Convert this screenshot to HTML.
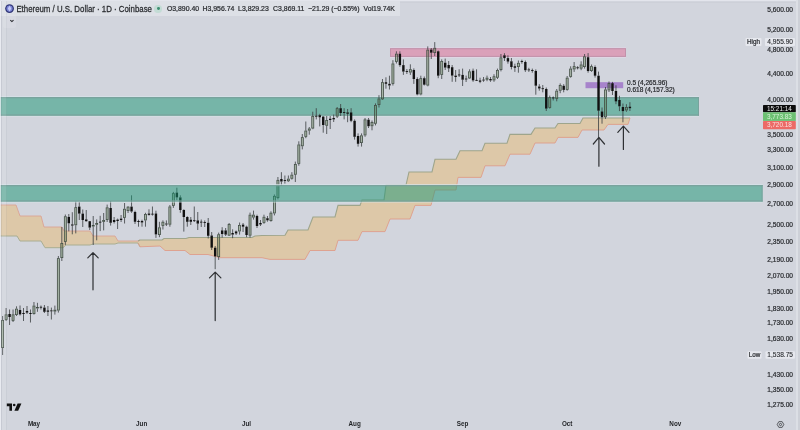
<!DOCTYPE html>
<html><head><meta charset="utf-8"><style>
html,body{margin:0;padding:0;}
body{width:800px;height:430px;overflow:hidden;background:#d2d5dd;position:relative;font-family:'Liberation Sans',Arial,sans-serif;}
.hdr{position:absolute;left:0;top:0;width:400px;height:16px;background:rgba(236,238,242,0.45);}
.t{position:absolute;white-space:nowrap;color:#2a2c30;}
.ohlc{top:5.35px;font-size:6.9px;line-height:8px;-webkit-text-stroke:0.22px #2a2c30;}
.edge{position:absolute;top:0;height:430px;}
</style></head><body>
<svg width="800" height="430" viewBox="0 0 800 430" style="position:absolute;left:0;top:0"><polygon points="0.0,205.0 16.0,205.0 20.0,216.0 41.0,216.0 44.0,227.0 62.0,227.0 64.0,231.0 90.0,231.0 93.0,236.0 115.0,236.0 118.0,241.0 138.0,241.0 140.0,240.0 162.0,240.0 164.0,238.5 186.0,238.5 189.0,237.5 252.0,237.5 255.0,236.0 262.0,235.5 285.0,235.2 288.0,230.0 308.0,230.0 313.0,217.0 335.0,217.0 338.0,205.4 360.0,205.4 362.0,200.0 384.0,200.0 386.0,185.0 406.0,185.0 409.0,172.0 432.0,172.0 435.0,159.3 456.0,159.3 460.0,150.7 482.0,150.7 485.0,143.3 507.0,143.3 510.0,134.4 531.0,134.4 535.0,128.0 555.0,128.0 558.0,123.5 580.0,123.5 583.0,118.0 630.0,118.0 630.0,118.0 628.0,124.4 608.0,124.4 604.0,130.0 582.0,130.0 578.0,137.4 558.0,137.4 555.0,143.0 535.0,143.0 530.0,154.2 510.0,154.2 505.0,165.8 485.0,165.8 481.0,177.4 458.0,177.4 456.0,190.0 435.0,190.0 431.0,205.4 415.0,205.4 410.0,219.0 390.0,219.0 385.0,231.6 362.0,231.6 358.0,240.3 338.0,240.3 335.0,250.5 310.0,250.5 305.0,259.4 270.0,259.4 262.0,257.7 220.0,257.7 208.0,254.5 190.0,254.5 185.0,250.5 165.0,250.5 160.0,246.0 140.0,246.8 138.0,243.0 118.0,243.0 115.0,244.0 93.0,244.0 90.0,245.0 66.0,245.0 63.0,247.7 45.0,247.7 41.0,241.0 20.0,241.0 17.0,236.0 0.0,236.0" fill="#ddc8a8"/><polyline points="0.0,205.0 16.0,205.0 20.0,216.0 41.0,216.0 44.0,227.0 62.0,227.0 64.0,231.0 90.0,231.0 93.0,236.0 115.0,236.0 118.0,241.0 138.0,241.0 140.0,240.0" fill="none" stroke="#dba394" stroke-width="0.9"/><polyline points="0.0,236.0 17.0,236.0 20.0,241.0 41.0,241.0 45.0,247.7 63.0,247.7 66.0,245.0 90.0,245.0 93.0,244.0 115.0,244.0 118.0,243.0 138.0,243.0 140.0,246.8" fill="none" stroke="#a9ae92" stroke-width="1.0"/><polyline points="138.0,241.0 140.0,240.0 162.0,240.0 164.0,238.5 186.0,238.5 189.0,237.5 252.0,237.5 255.0,236.0 262.0,235.5 285.0,235.2 288.0,230.0 308.0,230.0 313.0,217.0 335.0,217.0 338.0,205.4 360.0,205.4 362.0,200.0 384.0,200.0 386.0,185.0 406.0,185.0 409.0,172.0 432.0,172.0 435.0,159.3 456.0,159.3 460.0,150.7 482.0,150.7 485.0,143.3 507.0,143.3 510.0,134.4 531.0,134.4 535.0,128.0 555.0,128.0 558.0,123.5 580.0,123.5 583.0,118.0 630.0,118.0" fill="none" stroke="#9ea58c" stroke-width="1.1"/><polyline points="138.0,243.0 140.0,246.8 160.0,246.0 165.0,250.5 185.0,250.5 190.0,254.5 208.0,254.5 220.0,257.7 262.0,257.7 270.0,259.4 305.0,259.4 310.0,250.5 335.0,250.5 338.0,240.3 358.0,240.3 362.0,231.6 385.0,231.6 390.0,219.0 410.0,219.0 415.0,205.4 431.0,205.4 435.0,190.0 456.0,190.0 458.0,177.4 481.0,177.4 485.0,165.8 505.0,165.8 510.0,154.2 530.0,154.2 535.0,143.0 555.0,143.0 558.0,137.4 578.0,137.4 582.0,130.0 604.0,130.0 608.0,124.4 628.0,124.4 630.0,118.0" fill="none" stroke="#df9d8a" stroke-width="0.9"/><rect x="390" y="47.2" width="236" height="1" fill="rgba(226,214,230,0.8)"/><rect x="390" y="56.9" width="236" height="1.1" fill="rgba(226,214,230,0.8)"/><rect x="390" y="48.2" width="236" height="8.7" fill="rgba(220,140,170,0.72)"/><rect x="390.5" y="48.7" width="235" height="7.7" fill="none" stroke="rgba(185,140,165,0.75)" stroke-width="1"/><rect x="585.5" y="82.2" width="37.7" height="6" fill="rgba(150,100,195,0.72)"/><rect x="0" y="96.1" width="699" height="0.9" fill="rgba(215,228,232,0.8)"/><rect x="0" y="115.7" width="699" height="0.9" fill="rgba(215,228,232,0.8)"/><rect x="0" y="97" width="699" height="18.700000000000003" fill="rgba(26,149,115,0.5)"/><rect x="0" y="97" width="699" height="1.3" fill="rgba(122,160,155,0.85)"/><rect x="0" y="114.4" width="699" height="1.3" fill="rgba(122,160,155,0.85)"/><rect x="698" y="97" width="1" height="18.700000000000003" fill="rgba(122,160,155,0.85)"/><line x1="2.60" y1="316.0" x2="2.60" y2="320.0" stroke="#3a3d40" stroke-width="0.8"/><line x1="2.60" y1="348.0" x2="2.60" y2="355.0" stroke="#3a3d40" stroke-width="0.8"/><rect x="1.60" y="320.4" width="2.0" height="27.2" fill="rgba(87,121,64,0.35)" stroke="#414d44" stroke-width="0.8"/><line x1="6.08" y1="308.0" x2="6.08" y2="314.4" stroke="#3a3d40" stroke-width="0.8"/><line x1="6.08" y1="320.0" x2="6.08" y2="321.0" stroke="#3a3d40" stroke-width="0.8"/><rect x="5.09" y="314.8" width="2.0" height="4.8" fill="rgba(87,121,64,0.35)" stroke="#414d44" stroke-width="0.8"/><line x1="9.57" y1="309.5" x2="9.57" y2="314.0" stroke="#3a3d40" stroke-width="0.8"/><line x1="9.57" y1="317.0" x2="9.57" y2="325.0" stroke="#3a3d40" stroke-width="0.8"/><rect x="8.37" y="314.0" width="2.40" height="3.0" fill="#111"/><line x1="13.05" y1="309.5" x2="13.05" y2="314.4" stroke="#3a3d40" stroke-width="0.8"/><line x1="13.05" y1="321.0" x2="13.05" y2="322.0" stroke="#3a3d40" stroke-width="0.8"/><rect x="12.05" y="314.8" width="2.0" height="5.8" fill="rgba(87,121,64,0.35)" stroke="#414d44" stroke-width="0.8"/><line x1="16.54" y1="306.3" x2="16.54" y2="308.7" stroke="#3a3d40" stroke-width="0.8"/><line x1="16.54" y1="315.0" x2="16.54" y2="316.0" stroke="#3a3d40" stroke-width="0.8"/><rect x="15.54" y="309.1" width="2.0" height="5.5" fill="rgba(87,121,64,0.35)" stroke="#414d44" stroke-width="0.8"/><line x1="20.03" y1="305.5" x2="20.03" y2="310.0" stroke="#3a3d40" stroke-width="0.8"/><line x1="20.03" y1="314.4" x2="20.03" y2="315.5" stroke="#3a3d40" stroke-width="0.8"/><rect x="18.83" y="310.0" width="2.40" height="4.4" fill="#111"/><line x1="23.51" y1="308.0" x2="23.51" y2="313.0" stroke="#3a3d40" stroke-width="0.8"/><line x1="23.51" y1="314.0" x2="23.51" y2="321.0" stroke="#3a3d40" stroke-width="0.8"/><rect x="22.31" y="313.0" width="2.40" height="1.0" fill="#111"/><line x1="27.00" y1="306.0" x2="27.00" y2="311.0" stroke="#3a3d40" stroke-width="0.8"/><line x1="27.00" y1="312.6" x2="27.00" y2="314.0" stroke="#3a3d40" stroke-width="0.8"/><rect x="25.80" y="311.0" width="2.40" height="1.6" fill="#111"/><line x1="30.48" y1="309.5" x2="30.48" y2="313.0" stroke="#3a3d40" stroke-width="0.8"/><line x1="30.48" y1="314.0" x2="30.48" y2="322.5" stroke="#3a3d40" stroke-width="0.8"/><rect x="29.28" y="313.0" width="2.40" height="1.0" fill="#111"/><line x1="33.96" y1="302.0" x2="33.96" y2="305.6" stroke="#3a3d40" stroke-width="0.8"/><line x1="33.96" y1="314.0" x2="33.96" y2="314.6" stroke="#3a3d40" stroke-width="0.8"/><rect x="32.96" y="306.0" width="2.0" height="7.6" fill="rgba(87,121,64,0.35)" stroke="#414d44" stroke-width="0.8"/><line x1="37.45" y1="302.8" x2="37.45" y2="307.0" stroke="#3a3d40" stroke-width="0.8"/><line x1="37.45" y1="308.4" x2="37.45" y2="311.8" stroke="#3a3d40" stroke-width="0.8"/><rect x="36.45" y="307.4" width="2.0" height="0.6" fill="rgba(87,121,64,0.35)" stroke="#414d44" stroke-width="0.8"/><line x1="40.94" y1="305.5" x2="40.94" y2="307.0" stroke="#3a3d40" stroke-width="0.8"/><line x1="40.94" y1="307.5" x2="40.94" y2="309.5" stroke="#3a3d40" stroke-width="0.8"/><rect x="39.73" y="306.8" width="2.40" height="0.9" fill="#111"/><line x1="44.42" y1="305.0" x2="44.42" y2="307.6" stroke="#3a3d40" stroke-width="0.8"/><line x1="44.42" y1="311.8" x2="44.42" y2="313.0" stroke="#3a3d40" stroke-width="0.8"/><rect x="43.22" y="307.6" width="2.40" height="4.2" fill="#111"/><line x1="47.91" y1="306.0" x2="47.91" y2="310.4" stroke="#3a3d40" stroke-width="0.8"/><line x1="47.91" y1="311.8" x2="47.91" y2="316.0" stroke="#3a3d40" stroke-width="0.8"/><rect x="46.70" y="310.4" width="2.40" height="1.4" fill="#111"/><line x1="51.39" y1="307.6" x2="51.39" y2="310.6" stroke="#3a3d40" stroke-width="0.8"/><line x1="51.39" y1="311.2" x2="51.39" y2="319.5" stroke="#3a3d40" stroke-width="0.8"/><rect x="50.19" y="310.4" width="2.40" height="0.9" fill="#111"/><line x1="54.88" y1="305.6" x2="54.88" y2="309.7" stroke="#3a3d40" stroke-width="0.8"/><line x1="54.88" y1="311.5" x2="54.88" y2="314.6" stroke="#3a3d40" stroke-width="0.8"/><rect x="53.88" y="310.1" width="2.0" height="1.0" fill="rgba(87,121,64,0.35)" stroke="#414d44" stroke-width="0.8"/><line x1="58.36" y1="256.0" x2="58.36" y2="258.2" stroke="#3a3d40" stroke-width="0.8"/><line x1="58.36" y1="310.5" x2="58.36" y2="312.6" stroke="#3a3d40" stroke-width="0.8"/><rect x="57.36" y="258.6" width="2.0" height="51.5" fill="rgba(87,121,64,0.35)" stroke="#414d44" stroke-width="0.8"/><line x1="61.84" y1="227.0" x2="61.84" y2="243.0" stroke="#3a3d40" stroke-width="0.8"/><line x1="61.84" y1="258.0" x2="61.84" y2="261.0" stroke="#3a3d40" stroke-width="0.8"/><rect x="60.84" y="243.4" width="2.0" height="14.2" fill="rgba(87,121,64,0.35)" stroke="#414d44" stroke-width="0.8"/><line x1="65.33" y1="214.5" x2="65.33" y2="216.3" stroke="#3a3d40" stroke-width="0.8"/><line x1="65.33" y1="241.9" x2="65.33" y2="245.0" stroke="#3a3d40" stroke-width="0.8"/><rect x="64.33" y="216.7" width="2.0" height="24.8" fill="rgba(87,121,64,0.35)" stroke="#414d44" stroke-width="0.8"/><line x1="68.81" y1="214.0" x2="68.81" y2="216.9" stroke="#3a3d40" stroke-width="0.8"/><line x1="68.81" y1="223.3" x2="68.81" y2="231.4" stroke="#3a3d40" stroke-width="0.8"/><rect x="67.61" y="216.9" width="2.40" height="6.4" fill="#111"/><line x1="72.30" y1="212.2" x2="72.30" y2="224.4" stroke="#3a3d40" stroke-width="0.8"/><line x1="72.30" y1="225.6" x2="72.30" y2="234.3" stroke="#3a3d40" stroke-width="0.8"/><rect x="71.10" y="224.4" width="2.40" height="1.2" fill="#111"/><line x1="75.78" y1="201.4" x2="75.78" y2="207.2" stroke="#3a3d40" stroke-width="0.8"/><line x1="75.78" y1="225.2" x2="75.78" y2="233.4" stroke="#3a3d40" stroke-width="0.8"/><rect x="74.78" y="207.6" width="2.0" height="17.2" fill="rgba(87,121,64,0.35)" stroke="#414d44" stroke-width="0.8"/><line x1="79.27" y1="202.0" x2="79.27" y2="206.6" stroke="#3a3d40" stroke-width="0.8"/><line x1="79.27" y1="213.6" x2="79.27" y2="220.0" stroke="#3a3d40" stroke-width="0.8"/><rect x="78.07" y="206.6" width="2.40" height="7.0" fill="#111"/><line x1="82.75" y1="209.5" x2="82.75" y2="213.6" stroke="#3a3d40" stroke-width="0.8"/><line x1="82.75" y1="220.0" x2="82.75" y2="227.0" stroke="#3a3d40" stroke-width="0.8"/><rect x="81.55" y="213.6" width="2.40" height="6.4" fill="#111"/><line x1="86.24" y1="210.0" x2="86.24" y2="219.4" stroke="#3a3d40" stroke-width="0.8"/><line x1="86.24" y1="221.2" x2="86.24" y2="221.7" stroke="#3a3d40" stroke-width="0.8"/><rect x="85.04" y="219.4" width="2.40" height="1.8" fill="#111"/><line x1="89.72" y1="221.0" x2="89.72" y2="221.2" stroke="#3a3d40" stroke-width="0.8"/><line x1="89.72" y1="227.6" x2="89.72" y2="230.0" stroke="#3a3d40" stroke-width="0.8"/><rect x="88.52" y="221.2" width="2.40" height="6.4" fill="#111"/><line x1="93.21" y1="216.0" x2="93.21" y2="225.0" stroke="#3a3d40" stroke-width="0.8"/><line x1="93.21" y1="226.5" x2="93.21" y2="245.0" stroke="#3a3d40" stroke-width="0.8"/><rect x="92.21" y="225.4" width="2.0" height="0.7" fill="rgba(87,121,64,0.35)" stroke="#414d44" stroke-width="0.8"/><line x1="96.69" y1="219.4" x2="96.69" y2="223.0" stroke="#3a3d40" stroke-width="0.8"/><line x1="96.69" y1="224.7" x2="96.69" y2="240.3" stroke="#3a3d40" stroke-width="0.8"/><rect x="95.69" y="223.4" width="2.0" height="0.9" fill="rgba(87,121,64,0.35)" stroke="#414d44" stroke-width="0.8"/><line x1="100.18" y1="215.8" x2="100.18" y2="222.0" stroke="#3a3d40" stroke-width="0.8"/><line x1="100.18" y1="222.3" x2="100.18" y2="231.1" stroke="#3a3d40" stroke-width="0.8"/><rect x="98.98" y="221.7" width="2.40" height="0.9" fill="#111"/><line x1="103.66" y1="213.0" x2="103.66" y2="220.0" stroke="#3a3d40" stroke-width="0.8"/><line x1="103.66" y1="222.0" x2="103.66" y2="230.4" stroke="#3a3d40" stroke-width="0.8"/><rect x="102.66" y="220.4" width="2.0" height="1.2" fill="rgba(87,121,64,0.35)" stroke="#414d44" stroke-width="0.8"/><line x1="107.15" y1="204.6" x2="107.15" y2="207.4" stroke="#3a3d40" stroke-width="0.8"/><line x1="107.15" y1="220.0" x2="107.15" y2="222.0" stroke="#3a3d40" stroke-width="0.8"/><rect x="106.15" y="207.8" width="2.0" height="11.8" fill="rgba(87,121,64,0.35)" stroke="#414d44" stroke-width="0.8"/><line x1="110.63" y1="201.0" x2="110.63" y2="208.0" stroke="#3a3d40" stroke-width="0.8"/><line x1="110.63" y1="222.8" x2="110.63" y2="225.6" stroke="#3a3d40" stroke-width="0.8"/><rect x="109.43" y="208.0" width="2.40" height="14.8" fill="#111"/><line x1="114.12" y1="217.0" x2="114.12" y2="220.0" stroke="#3a3d40" stroke-width="0.8"/><line x1="114.12" y1="222.0" x2="114.12" y2="223.5" stroke="#3a3d40" stroke-width="0.8"/><rect x="112.92" y="220.0" width="2.40" height="2.0" fill="#111"/><line x1="117.60" y1="218.6" x2="117.60" y2="219.6" stroke="#3a3d40" stroke-width="0.8"/><line x1="117.60" y1="221.0" x2="117.60" y2="229.0" stroke="#3a3d40" stroke-width="0.8"/><rect x="116.40" y="219.6" width="2.40" height="1.4" fill="#111"/><line x1="121.09" y1="215.0" x2="121.09" y2="218.6" stroke="#3a3d40" stroke-width="0.8"/><line x1="121.09" y1="220.0" x2="121.09" y2="222.0" stroke="#3a3d40" stroke-width="0.8"/><rect x="119.89" y="218.6" width="2.40" height="1.4" fill="#111"/><line x1="124.57" y1="203.0" x2="124.57" y2="208.8" stroke="#3a3d40" stroke-width="0.8"/><line x1="124.57" y1="217.9" x2="124.57" y2="223.5" stroke="#3a3d40" stroke-width="0.8"/><rect x="123.57" y="209.2" width="2.0" height="8.3" fill="rgba(87,121,64,0.35)" stroke="#414d44" stroke-width="0.8"/><line x1="128.06" y1="206.0" x2="128.06" y2="206.7" stroke="#3a3d40" stroke-width="0.8"/><line x1="128.06" y1="211.0" x2="128.06" y2="213.0" stroke="#3a3d40" stroke-width="0.8"/><rect x="127.06" y="207.1" width="2.0" height="3.5" fill="rgba(87,121,64,0.35)" stroke="#414d44" stroke-width="0.8"/><line x1="131.54" y1="195.3" x2="131.54" y2="206.6" stroke="#3a3d40" stroke-width="0.8"/><line x1="131.54" y1="211.5" x2="131.54" y2="212.8" stroke="#3a3d40" stroke-width="0.8"/><rect x="130.34" y="206.6" width="2.40" height="4.9" fill="#111"/><line x1="135.03" y1="210.7" x2="135.03" y2="212.0" stroke="#3a3d40" stroke-width="0.8"/><line x1="135.03" y1="221.8" x2="135.03" y2="224.0" stroke="#3a3d40" stroke-width="0.8"/><rect x="133.83" y="212.0" width="2.40" height="9.8" fill="#111"/><line x1="138.51" y1="219.7" x2="138.51" y2="221.0" stroke="#3a3d40" stroke-width="0.8"/><line x1="138.51" y1="222.0" x2="138.51" y2="226.7" stroke="#3a3d40" stroke-width="0.8"/><rect x="137.31" y="221.0" width="2.40" height="1.0" fill="#111"/><line x1="142.00" y1="219.7" x2="142.00" y2="221.0" stroke="#3a3d40" stroke-width="0.8"/><line x1="142.00" y1="222.5" x2="142.00" y2="226.7" stroke="#3a3d40" stroke-width="0.8"/><rect x="140.80" y="221.0" width="2.40" height="1.5" fill="#111"/><line x1="145.48" y1="212.8" x2="145.48" y2="214.0" stroke="#3a3d40" stroke-width="0.8"/><line x1="145.48" y1="220.4" x2="145.48" y2="226.7" stroke="#3a3d40" stroke-width="0.8"/><rect x="144.48" y="214.4" width="2.0" height="5.6" fill="rgba(87,121,64,0.35)" stroke="#414d44" stroke-width="0.8"/><line x1="148.97" y1="209.3" x2="148.97" y2="213.5" stroke="#3a3d40" stroke-width="0.8"/><line x1="148.97" y1="214.9" x2="148.97" y2="215.6" stroke="#3a3d40" stroke-width="0.8"/><rect x="147.77" y="213.5" width="2.40" height="1.4" fill="#111"/><line x1="152.45" y1="206.5" x2="152.45" y2="214.0" stroke="#3a3d40" stroke-width="0.8"/><line x1="152.45" y1="214.3" x2="152.45" y2="215.6" stroke="#3a3d40" stroke-width="0.8"/><rect x="151.25" y="213.7" width="2.40" height="0.9" fill="#111"/><line x1="155.94" y1="210.7" x2="155.94" y2="213.5" stroke="#3a3d40" stroke-width="0.8"/><line x1="155.94" y1="234.4" x2="155.94" y2="237.9" stroke="#3a3d40" stroke-width="0.8"/><rect x="154.74" y="213.5" width="2.40" height="20.9" fill="#111"/><line x1="159.42" y1="221.8" x2="159.42" y2="227.4" stroke="#3a3d40" stroke-width="0.8"/><line x1="159.42" y1="235.0" x2="159.42" y2="237.2" stroke="#3a3d40" stroke-width="0.8"/><rect x="158.42" y="227.8" width="2.0" height="6.8" fill="rgba(87,121,64,0.35)" stroke="#414d44" stroke-width="0.8"/><line x1="162.91" y1="220.4" x2="162.91" y2="221.8" stroke="#3a3d40" stroke-width="0.8"/><line x1="162.91" y1="226.0" x2="162.91" y2="229.5" stroke="#3a3d40" stroke-width="0.8"/><rect x="161.91" y="222.2" width="2.0" height="3.4" fill="rgba(87,121,64,0.35)" stroke="#414d44" stroke-width="0.8"/><line x1="166.39" y1="220.4" x2="166.39" y2="223.5" stroke="#3a3d40" stroke-width="0.8"/><line x1="166.39" y1="224.5" x2="166.39" y2="226.0" stroke="#3a3d40" stroke-width="0.8"/><rect x="165.19" y="223.5" width="2.40" height="1.0" fill="#111"/><line x1="169.88" y1="205.0" x2="169.88" y2="206.5" stroke="#3a3d40" stroke-width="0.8"/><line x1="169.88" y1="224.6" x2="169.88" y2="226.7" stroke="#3a3d40" stroke-width="0.8"/><rect x="168.88" y="206.9" width="2.0" height="17.3" fill="rgba(87,121,64,0.35)" stroke="#414d44" stroke-width="0.8"/><line x1="173.36" y1="191.9" x2="173.36" y2="193.2" stroke="#3a3d40" stroke-width="0.8"/><line x1="173.36" y1="205.8" x2="173.36" y2="207.9" stroke="#3a3d40" stroke-width="0.8"/><rect x="172.36" y="193.6" width="2.0" height="11.8" fill="rgba(87,121,64,0.35)" stroke="#414d44" stroke-width="0.8"/><line x1="176.85" y1="187.7" x2="176.85" y2="192.6" stroke="#3a3d40" stroke-width="0.8"/><line x1="176.85" y1="197.4" x2="176.85" y2="200.2" stroke="#3a3d40" stroke-width="0.8"/><rect x="175.65" y="192.6" width="2.40" height="4.8" fill="#111"/><line x1="180.33" y1="195.3" x2="180.33" y2="197.4" stroke="#3a3d40" stroke-width="0.8"/><line x1="180.33" y1="210.0" x2="180.33" y2="212.8" stroke="#3a3d40" stroke-width="0.8"/><rect x="179.13" y="197.4" width="2.40" height="12.6" fill="#111"/><line x1="183.82" y1="209.3" x2="183.82" y2="210.0" stroke="#3a3d40" stroke-width="0.8"/><line x1="183.82" y1="217.0" x2="183.82" y2="231.6" stroke="#3a3d40" stroke-width="0.8"/><rect x="182.62" y="210.0" width="2.40" height="7.0" fill="#111"/><line x1="187.30" y1="216.3" x2="187.30" y2="217.0" stroke="#3a3d40" stroke-width="0.8"/><line x1="187.30" y1="221.8" x2="187.30" y2="226.7" stroke="#3a3d40" stroke-width="0.8"/><rect x="186.10" y="217.0" width="2.40" height="4.8" fill="#111"/><line x1="190.79" y1="217.0" x2="190.79" y2="219.7" stroke="#3a3d40" stroke-width="0.8"/><line x1="190.79" y1="221.8" x2="190.79" y2="225.0" stroke="#3a3d40" stroke-width="0.8"/><rect x="189.59" y="219.7" width="2.40" height="2.1" fill="#111"/><line x1="194.27" y1="206.5" x2="194.27" y2="220.4" stroke="#3a3d40" stroke-width="0.8"/><line x1="194.27" y1="220.8" x2="194.27" y2="222.0" stroke="#3a3d40" stroke-width="0.8"/><rect x="193.07" y="220.2" width="2.40" height="0.9" fill="#111"/><line x1="197.76" y1="212.0" x2="197.76" y2="220.4" stroke="#3a3d40" stroke-width="0.8"/><line x1="197.76" y1="223.6" x2="197.76" y2="230.0" stroke="#3a3d40" stroke-width="0.8"/><rect x="196.56" y="220.4" width="2.40" height="3.2" fill="#111"/><line x1="201.24" y1="219.5" x2="201.24" y2="222.0" stroke="#3a3d40" stroke-width="0.8"/><line x1="201.24" y1="222.3" x2="201.24" y2="227.0" stroke="#3a3d40" stroke-width="0.8"/><rect x="200.04" y="221.7" width="2.40" height="0.9" fill="#111"/><line x1="204.73" y1="220.4" x2="204.73" y2="222.0" stroke="#3a3d40" stroke-width="0.8"/><line x1="204.73" y1="222.8" x2="204.73" y2="227.0" stroke="#3a3d40" stroke-width="0.8"/><rect x="203.53" y="222.0" width="2.40" height="0.9" fill="#111"/><line x1="208.21" y1="218.0" x2="208.21" y2="222.8" stroke="#3a3d40" stroke-width="0.8"/><line x1="208.21" y1="235.8" x2="208.21" y2="238.5" stroke="#3a3d40" stroke-width="0.8"/><rect x="207.01" y="222.8" width="2.40" height="13.0" fill="#111"/><line x1="211.70" y1="232.0" x2="211.70" y2="235.5" stroke="#3a3d40" stroke-width="0.8"/><line x1="211.70" y1="247.7" x2="211.70" y2="250.0" stroke="#3a3d40" stroke-width="0.8"/><rect x="210.50" y="235.5" width="2.40" height="12.2" fill="#111"/><line x1="215.18" y1="246.0" x2="215.18" y2="247.7" stroke="#3a3d40" stroke-width="0.8"/><line x1="215.18" y1="256.4" x2="215.18" y2="269.2" stroke="#3a3d40" stroke-width="0.8"/><rect x="213.98" y="247.7" width="2.40" height="8.7" fill="#111"/><line x1="218.67" y1="232.6" x2="218.67" y2="234.3" stroke="#3a3d40" stroke-width="0.8"/><line x1="218.67" y1="257.0" x2="218.67" y2="259.9" stroke="#3a3d40" stroke-width="0.8"/><rect x="217.67" y="234.7" width="2.0" height="21.9" fill="rgba(87,121,64,0.35)" stroke="#414d44" stroke-width="0.8"/><line x1="222.15" y1="227.2" x2="222.15" y2="230.4" stroke="#3a3d40" stroke-width="0.8"/><line x1="222.15" y1="234.0" x2="222.15" y2="237.7" stroke="#3a3d40" stroke-width="0.8"/><rect x="220.95" y="230.4" width="2.40" height="3.6" fill="#111"/><line x1="225.64" y1="228.0" x2="225.64" y2="230.4" stroke="#3a3d40" stroke-width="0.8"/><line x1="225.64" y1="234.6" x2="225.64" y2="236.0" stroke="#3a3d40" stroke-width="0.8"/><rect x="224.44" y="230.4" width="2.40" height="4.2" fill="#111"/><line x1="229.12" y1="223.0" x2="229.12" y2="224.0" stroke="#3a3d40" stroke-width="0.8"/><line x1="229.12" y1="235.6" x2="229.12" y2="236.0" stroke="#3a3d40" stroke-width="0.8"/><rect x="228.12" y="224.4" width="2.0" height="10.8" fill="rgba(87,121,64,0.35)" stroke="#414d44" stroke-width="0.8"/><line x1="232.61" y1="229.3" x2="232.61" y2="233.0" stroke="#3a3d40" stroke-width="0.8"/><line x1="232.61" y1="234.6" x2="232.61" y2="238.2" stroke="#3a3d40" stroke-width="0.8"/><rect x="231.41" y="233.0" width="2.40" height="1.6" fill="#111"/><line x1="236.09" y1="230.5" x2="236.09" y2="231.4" stroke="#3a3d40" stroke-width="0.8"/><line x1="236.09" y1="233.5" x2="236.09" y2="235.0" stroke="#3a3d40" stroke-width="0.8"/><rect x="234.90" y="231.4" width="2.40" height="2.1" fill="#111"/><line x1="239.58" y1="222.5" x2="239.58" y2="225.0" stroke="#3a3d40" stroke-width="0.8"/><line x1="239.58" y1="231.4" x2="239.58" y2="234.6" stroke="#3a3d40" stroke-width="0.8"/><rect x="238.58" y="225.4" width="2.0" height="5.6" fill="rgba(87,121,64,0.35)" stroke="#414d44" stroke-width="0.8"/><line x1="243.06" y1="223.0" x2="243.06" y2="224.6" stroke="#3a3d40" stroke-width="0.8"/><line x1="243.06" y1="226.7" x2="243.06" y2="232.0" stroke="#3a3d40" stroke-width="0.8"/><rect x="241.87" y="224.6" width="2.40" height="2.1" fill="#111"/><line x1="246.55" y1="225.7" x2="246.55" y2="226.7" stroke="#3a3d40" stroke-width="0.8"/><line x1="246.55" y1="235.0" x2="246.55" y2="237.2" stroke="#3a3d40" stroke-width="0.8"/><rect x="245.35" y="226.7" width="2.40" height="8.3" fill="#111"/><line x1="250.03" y1="212.6" x2="250.03" y2="214.7" stroke="#3a3d40" stroke-width="0.8"/><line x1="250.03" y1="235.6" x2="250.03" y2="237.7" stroke="#3a3d40" stroke-width="0.8"/><rect x="249.03" y="215.1" width="2.0" height="20.1" fill="rgba(87,121,64,0.35)" stroke="#414d44" stroke-width="0.8"/><line x1="253.52" y1="210.6" x2="253.52" y2="214.7" stroke="#3a3d40" stroke-width="0.8"/><line x1="253.52" y1="217.5" x2="253.52" y2="219.6" stroke="#3a3d40" stroke-width="0.8"/><rect x="252.52" y="215.1" width="2.0" height="2.0" fill="rgba(87,121,64,0.35)" stroke="#414d44" stroke-width="0.8"/><line x1="257.00" y1="214.7" x2="257.00" y2="216.0" stroke="#3a3d40" stroke-width="0.8"/><line x1="257.00" y1="226.0" x2="257.00" y2="228.0" stroke="#3a3d40" stroke-width="0.8"/><rect x="255.81" y="216.0" width="2.40" height="10.0" fill="#111"/><line x1="260.49" y1="220.0" x2="260.49" y2="223.0" stroke="#3a3d40" stroke-width="0.8"/><line x1="260.49" y1="224.5" x2="260.49" y2="226.0" stroke="#3a3d40" stroke-width="0.8"/><rect x="259.29" y="223.0" width="2.40" height="1.5" fill="#111"/><line x1="263.98" y1="214.7" x2="263.98" y2="216.8" stroke="#3a3d40" stroke-width="0.8"/><line x1="263.98" y1="223.0" x2="263.98" y2="223.8" stroke="#3a3d40" stroke-width="0.8"/><rect x="262.98" y="217.2" width="2.0" height="5.4" fill="rgba(87,121,64,0.35)" stroke="#414d44" stroke-width="0.8"/><line x1="267.46" y1="216.0" x2="267.46" y2="218.2" stroke="#3a3d40" stroke-width="0.8"/><line x1="267.46" y1="220.3" x2="267.46" y2="221.7" stroke="#3a3d40" stroke-width="0.8"/><rect x="266.26" y="218.2" width="2.40" height="2.1" fill="#111"/><line x1="270.94" y1="211.3" x2="270.94" y2="212.7" stroke="#3a3d40" stroke-width="0.8"/><line x1="270.94" y1="221.0" x2="270.94" y2="221.7" stroke="#3a3d40" stroke-width="0.8"/><rect x="269.94" y="213.1" width="2.0" height="7.5" fill="rgba(87,121,64,0.35)" stroke="#414d44" stroke-width="0.8"/><line x1="274.43" y1="194.5" x2="274.43" y2="195.9" stroke="#3a3d40" stroke-width="0.8"/><line x1="274.43" y1="213.4" x2="274.43" y2="215.4" stroke="#3a3d40" stroke-width="0.8"/><rect x="273.43" y="196.3" width="2.0" height="16.7" fill="rgba(87,121,64,0.35)" stroke="#414d44" stroke-width="0.8"/><line x1="277.92" y1="177.0" x2="277.92" y2="179.9" stroke="#3a3d40" stroke-width="0.8"/><line x1="277.92" y1="198.0" x2="277.92" y2="199.4" stroke="#3a3d40" stroke-width="0.8"/><rect x="276.92" y="180.3" width="2.0" height="17.3" fill="rgba(87,121,64,0.35)" stroke="#414d44" stroke-width="0.8"/><line x1="281.40" y1="172.2" x2="281.40" y2="179.0" stroke="#3a3d40" stroke-width="0.8"/><line x1="281.40" y1="181.5" x2="281.40" y2="186.0" stroke="#3a3d40" stroke-width="0.8"/><rect x="280.20" y="179.0" width="2.40" height="2.5" fill="#111"/><line x1="284.88" y1="175.5" x2="284.88" y2="180.4" stroke="#3a3d40" stroke-width="0.8"/><line x1="284.88" y1="180.6" x2="284.88" y2="183.6" stroke="#3a3d40" stroke-width="0.8"/><rect x="283.69" y="180.1" width="2.40" height="0.9" fill="#111"/><line x1="288.37" y1="175.5" x2="288.37" y2="178.7" stroke="#3a3d40" stroke-width="0.8"/><line x1="288.37" y1="181.2" x2="288.37" y2="182.0" stroke="#3a3d40" stroke-width="0.8"/><rect x="287.37" y="179.1" width="2.0" height="1.7" fill="rgba(87,121,64,0.35)" stroke="#414d44" stroke-width="0.8"/><line x1="291.86" y1="172.2" x2="291.86" y2="174.7" stroke="#3a3d40" stroke-width="0.8"/><line x1="291.86" y1="178.7" x2="291.86" y2="179.6" stroke="#3a3d40" stroke-width="0.8"/><rect x="290.86" y="175.1" width="2.0" height="3.2" fill="rgba(87,121,64,0.35)" stroke="#414d44" stroke-width="0.8"/><line x1="295.34" y1="161.6" x2="295.34" y2="164.0" stroke="#3a3d40" stroke-width="0.8"/><line x1="295.34" y1="174.7" x2="295.34" y2="182.0" stroke="#3a3d40" stroke-width="0.8"/><rect x="294.34" y="164.4" width="2.0" height="9.9" fill="rgba(87,121,64,0.35)" stroke="#414d44" stroke-width="0.8"/><line x1="298.82" y1="141.3" x2="298.82" y2="144.5" stroke="#3a3d40" stroke-width="0.8"/><line x1="298.82" y1="164.0" x2="298.82" y2="165.7" stroke="#3a3d40" stroke-width="0.8"/><rect x="297.82" y="144.9" width="2.0" height="18.7" fill="rgba(87,121,64,0.35)" stroke="#414d44" stroke-width="0.8"/><line x1="302.31" y1="134.0" x2="302.31" y2="137.2" stroke="#3a3d40" stroke-width="0.8"/><line x1="302.31" y1="146.2" x2="302.31" y2="149.4" stroke="#3a3d40" stroke-width="0.8"/><rect x="301.31" y="137.6" width="2.0" height="8.2" fill="rgba(87,121,64,0.35)" stroke="#414d44" stroke-width="0.8"/><line x1="305.80" y1="121.5" x2="305.80" y2="130.6" stroke="#3a3d40" stroke-width="0.8"/><line x1="305.80" y1="136.8" x2="305.80" y2="138.2" stroke="#3a3d40" stroke-width="0.8"/><rect x="304.80" y="131.0" width="2.0" height="5.4" fill="rgba(87,121,64,0.35)" stroke="#414d44" stroke-width="0.8"/><line x1="309.28" y1="127.0" x2="309.28" y2="128.5" stroke="#3a3d40" stroke-width="0.8"/><line x1="309.28" y1="130.6" x2="309.28" y2="134.7" stroke="#3a3d40" stroke-width="0.8"/><rect x="308.28" y="128.9" width="2.0" height="1.3" fill="rgba(87,121,64,0.35)" stroke="#414d44" stroke-width="0.8"/><line x1="312.76" y1="111.7" x2="312.76" y2="116.0" stroke="#3a3d40" stroke-width="0.8"/><line x1="312.76" y1="128.5" x2="312.76" y2="129.2" stroke="#3a3d40" stroke-width="0.8"/><rect x="311.76" y="116.4" width="2.0" height="11.7" fill="rgba(87,121,64,0.35)" stroke="#414d44" stroke-width="0.8"/><line x1="316.25" y1="108.2" x2="316.25" y2="116.0" stroke="#3a3d40" stroke-width="0.8"/><line x1="316.25" y1="116.5" x2="316.25" y2="119.4" stroke="#3a3d40" stroke-width="0.8"/><rect x="315.05" y="115.8" width="2.40" height="0.9" fill="#111"/><line x1="319.74" y1="113.8" x2="319.74" y2="115.2" stroke="#3a3d40" stroke-width="0.8"/><line x1="319.74" y1="117.3" x2="319.74" y2="126.4" stroke="#3a3d40" stroke-width="0.8"/><rect x="318.54" y="115.2" width="2.40" height="2.1" fill="#111"/><line x1="323.22" y1="116.0" x2="323.22" y2="116.6" stroke="#3a3d40" stroke-width="0.8"/><line x1="323.22" y1="125.0" x2="323.22" y2="132.7" stroke="#3a3d40" stroke-width="0.8"/><rect x="322.02" y="116.6" width="2.40" height="8.4" fill="#111"/><line x1="326.70" y1="116.0" x2="326.70" y2="120.0" stroke="#3a3d40" stroke-width="0.8"/><line x1="326.70" y1="125.7" x2="326.70" y2="134.0" stroke="#3a3d40" stroke-width="0.8"/><rect x="325.70" y="120.4" width="2.0" height="4.9" fill="rgba(87,121,64,0.35)" stroke="#414d44" stroke-width="0.8"/><line x1="330.19" y1="116.0" x2="330.19" y2="118.7" stroke="#3a3d40" stroke-width="0.8"/><line x1="330.19" y1="120.0" x2="330.19" y2="129.0" stroke="#3a3d40" stroke-width="0.8"/><rect x="328.99" y="118.7" width="2.40" height="1.3" fill="#111"/><line x1="333.68" y1="114.5" x2="333.68" y2="118.0" stroke="#3a3d40" stroke-width="0.8"/><line x1="333.68" y1="119.4" x2="333.68" y2="122.0" stroke="#3a3d40" stroke-width="0.8"/><rect x="332.48" y="118.0" width="2.40" height="1.4" fill="#111"/><line x1="337.16" y1="107.0" x2="337.16" y2="108.2" stroke="#3a3d40" stroke-width="0.8"/><line x1="337.16" y1="116.6" x2="337.16" y2="118.0" stroke="#3a3d40" stroke-width="0.8"/><rect x="336.16" y="108.6" width="2.0" height="7.6" fill="rgba(87,121,64,0.35)" stroke="#414d44" stroke-width="0.8"/><line x1="340.65" y1="104.0" x2="340.65" y2="108.2" stroke="#3a3d40" stroke-width="0.8"/><line x1="340.65" y1="113.0" x2="340.65" y2="116.0" stroke="#3a3d40" stroke-width="0.8"/><rect x="339.45" y="108.2" width="2.40" height="4.8" fill="#111"/><line x1="344.13" y1="108.2" x2="344.13" y2="112.4" stroke="#3a3d40" stroke-width="0.8"/><line x1="344.13" y1="112.6" x2="344.13" y2="119.4" stroke="#3a3d40" stroke-width="0.8"/><rect x="342.93" y="112.0" width="2.40" height="0.9" fill="#111"/><line x1="347.62" y1="109.0" x2="347.62" y2="112.4" stroke="#3a3d40" stroke-width="0.8"/><line x1="347.62" y1="113.8" x2="347.62" y2="122.2" stroke="#3a3d40" stroke-width="0.8"/><rect x="346.42" y="112.4" width="2.40" height="1.4" fill="#111"/><line x1="351.10" y1="108.2" x2="351.10" y2="112.4" stroke="#3a3d40" stroke-width="0.8"/><line x1="351.10" y1="120.8" x2="351.10" y2="122.2" stroke="#3a3d40" stroke-width="0.8"/><rect x="349.90" y="112.4" width="2.40" height="8.4" fill="#111"/><line x1="354.59" y1="119.4" x2="354.59" y2="120.8" stroke="#3a3d40" stroke-width="0.8"/><line x1="354.59" y1="136.8" x2="354.59" y2="139.6" stroke="#3a3d40" stroke-width="0.8"/><rect x="353.39" y="120.8" width="2.40" height="16.0" fill="#111"/><line x1="358.07" y1="133.4" x2="358.07" y2="136.0" stroke="#3a3d40" stroke-width="0.8"/><line x1="358.07" y1="143.8" x2="358.07" y2="146.6" stroke="#3a3d40" stroke-width="0.8"/><rect x="356.87" y="136.0" width="2.40" height="7.8" fill="#111"/><line x1="361.56" y1="133.4" x2="361.56" y2="135.4" stroke="#3a3d40" stroke-width="0.8"/><line x1="361.56" y1="143.0" x2="361.56" y2="146.6" stroke="#3a3d40" stroke-width="0.8"/><rect x="360.56" y="135.8" width="2.0" height="6.8" fill="rgba(87,121,64,0.35)" stroke="#414d44" stroke-width="0.8"/><line x1="365.04" y1="118.0" x2="365.04" y2="119.4" stroke="#3a3d40" stroke-width="0.8"/><line x1="365.04" y1="135.4" x2="365.04" y2="136.8" stroke="#3a3d40" stroke-width="0.8"/><rect x="364.04" y="119.8" width="2.0" height="15.2" fill="rgba(87,121,64,0.35)" stroke="#414d44" stroke-width="0.8"/><line x1="368.53" y1="118.0" x2="368.53" y2="119.7" stroke="#3a3d40" stroke-width="0.8"/><line x1="368.53" y1="126.2" x2="368.53" y2="128.0" stroke="#3a3d40" stroke-width="0.8"/><rect x="367.33" y="119.7" width="2.40" height="6.5" fill="#111"/><line x1="372.01" y1="120.5" x2="372.01" y2="122.0" stroke="#3a3d40" stroke-width="0.8"/><line x1="372.01" y1="126.2" x2="372.01" y2="130.3" stroke="#3a3d40" stroke-width="0.8"/><rect x="371.01" y="122.4" width="2.0" height="3.4" fill="rgba(87,121,64,0.35)" stroke="#414d44" stroke-width="0.8"/><line x1="375.50" y1="103.4" x2="375.50" y2="105.0" stroke="#3a3d40" stroke-width="0.8"/><line x1="375.50" y1="123.7" x2="375.50" y2="125.4" stroke="#3a3d40" stroke-width="0.8"/><rect x="374.50" y="105.4" width="2.0" height="17.9" fill="rgba(87,121,64,0.35)" stroke="#414d44" stroke-width="0.8"/><line x1="378.98" y1="95.2" x2="378.98" y2="98.5" stroke="#3a3d40" stroke-width="0.8"/><line x1="378.98" y1="105.0" x2="378.98" y2="107.5" stroke="#3a3d40" stroke-width="0.8"/><rect x="377.98" y="98.9" width="2.0" height="5.7" fill="rgba(87,121,64,0.35)" stroke="#414d44" stroke-width="0.8"/><line x1="382.47" y1="79.0" x2="382.47" y2="82.2" stroke="#3a3d40" stroke-width="0.8"/><line x1="382.47" y1="99.3" x2="382.47" y2="100.0" stroke="#3a3d40" stroke-width="0.8"/><rect x="381.47" y="82.6" width="2.0" height="16.3" fill="rgba(87,121,64,0.35)" stroke="#414d44" stroke-width="0.8"/><line x1="385.95" y1="77.3" x2="385.95" y2="82.2" stroke="#3a3d40" stroke-width="0.8"/><line x1="385.95" y1="83.8" x2="385.95" y2="88.7" stroke="#3a3d40" stroke-width="0.8"/><rect x="384.75" y="82.2" width="2.40" height="1.6" fill="#111"/><line x1="389.44" y1="75.7" x2="389.44" y2="83.8" stroke="#3a3d40" stroke-width="0.8"/><line x1="389.44" y1="85.5" x2="389.44" y2="89.5" stroke="#3a3d40" stroke-width="0.8"/><rect x="388.24" y="83.8" width="2.40" height="1.7" fill="#111"/><line x1="392.92" y1="60.2" x2="392.92" y2="63.5" stroke="#3a3d40" stroke-width="0.8"/><line x1="392.92" y1="83.9" x2="392.92" y2="85.5" stroke="#3a3d40" stroke-width="0.8"/><rect x="391.92" y="63.9" width="2.0" height="19.6" fill="rgba(87,121,64,0.35)" stroke="#414d44" stroke-width="0.8"/><line x1="396.41" y1="51.3" x2="396.41" y2="53.7" stroke="#3a3d40" stroke-width="0.8"/><line x1="396.41" y1="61.9" x2="396.41" y2="63.5" stroke="#3a3d40" stroke-width="0.8"/><rect x="395.41" y="54.1" width="2.0" height="7.4" fill="rgba(87,121,64,0.35)" stroke="#414d44" stroke-width="0.8"/><line x1="399.89" y1="51.3" x2="399.89" y2="53.7" stroke="#3a3d40" stroke-width="0.8"/><line x1="399.89" y1="65.1" x2="399.89" y2="66.8" stroke="#3a3d40" stroke-width="0.8"/><rect x="398.69" y="53.7" width="2.40" height="11.4" fill="#111"/><line x1="403.38" y1="59.4" x2="403.38" y2="65.1" stroke="#3a3d40" stroke-width="0.8"/><line x1="403.38" y1="71.6" x2="403.38" y2="74.9" stroke="#3a3d40" stroke-width="0.8"/><rect x="402.18" y="65.1" width="2.40" height="6.5" fill="#111"/><line x1="406.86" y1="69.0" x2="406.86" y2="71.4" stroke="#3a3d40" stroke-width="0.8"/><line x1="406.86" y1="71.8" x2="406.86" y2="74.0" stroke="#3a3d40" stroke-width="0.8"/><rect x="405.66" y="71.1" width="2.40" height="0.9" fill="#111"/><line x1="410.35" y1="64.3" x2="410.35" y2="69.2" stroke="#3a3d40" stroke-width="0.8"/><line x1="410.35" y1="72.5" x2="410.35" y2="74.9" stroke="#3a3d40" stroke-width="0.8"/><rect x="409.35" y="69.6" width="2.0" height="2.5" fill="rgba(87,121,64,0.35)" stroke="#414d44" stroke-width="0.8"/><line x1="413.83" y1="68.4" x2="413.83" y2="70.0" stroke="#3a3d40" stroke-width="0.8"/><line x1="413.83" y1="79.0" x2="413.83" y2="83.9" stroke="#3a3d40" stroke-width="0.8"/><rect x="412.63" y="70.0" width="2.40" height="9.0" fill="#111"/><line x1="417.31" y1="77.3" x2="417.31" y2="79.0" stroke="#3a3d40" stroke-width="0.8"/><line x1="417.31" y1="94.4" x2="417.31" y2="95.3" stroke="#3a3d40" stroke-width="0.8"/><rect x="416.12" y="79.0" width="2.40" height="15.4" fill="#111"/><line x1="420.80" y1="75.7" x2="420.80" y2="78.2" stroke="#3a3d40" stroke-width="0.8"/><line x1="420.80" y1="94.4" x2="420.80" y2="95.3" stroke="#3a3d40" stroke-width="0.8"/><rect x="419.80" y="78.6" width="2.0" height="15.4" fill="rgba(87,121,64,0.35)" stroke="#414d44" stroke-width="0.8"/><line x1="424.29" y1="76.5" x2="424.29" y2="78.2" stroke="#3a3d40" stroke-width="0.8"/><line x1="424.29" y1="84.7" x2="424.29" y2="85.5" stroke="#3a3d40" stroke-width="0.8"/><rect x="423.09" y="78.2" width="2.40" height="6.5" fill="#111"/><line x1="427.77" y1="46.4" x2="427.77" y2="49.7" stroke="#3a3d40" stroke-width="0.8"/><line x1="427.77" y1="85.5" x2="427.77" y2="86.3" stroke="#3a3d40" stroke-width="0.8"/><rect x="426.77" y="50.1" width="2.0" height="35.0" fill="rgba(87,121,64,0.35)" stroke="#414d44" stroke-width="0.8"/><line x1="431.25" y1="48.0" x2="431.25" y2="49.6" stroke="#3a3d40" stroke-width="0.8"/><line x1="431.25" y1="52.7" x2="431.25" y2="59.0" stroke="#3a3d40" stroke-width="0.8"/><rect x="430.06" y="49.6" width="2.40" height="3.1" fill="#111"/><line x1="434.74" y1="42.1" x2="434.74" y2="47.8" stroke="#3a3d40" stroke-width="0.8"/><line x1="434.74" y1="53.0" x2="434.74" y2="56.0" stroke="#3a3d40" stroke-width="0.8"/><rect x="433.74" y="48.2" width="2.0" height="4.4" fill="rgba(87,121,64,0.35)" stroke="#414d44" stroke-width="0.8"/><line x1="438.23" y1="50.5" x2="438.23" y2="51.3" stroke="#3a3d40" stroke-width="0.8"/><line x1="438.23" y1="75.7" x2="438.23" y2="78.2" stroke="#3a3d40" stroke-width="0.8"/><rect x="437.03" y="51.3" width="2.40" height="24.4" fill="#111"/><line x1="441.71" y1="59.4" x2="441.71" y2="61.0" stroke="#3a3d40" stroke-width="0.8"/><line x1="441.71" y1="74.9" x2="441.71" y2="79.0" stroke="#3a3d40" stroke-width="0.8"/><rect x="440.71" y="61.4" width="2.0" height="13.1" fill="rgba(87,121,64,0.35)" stroke="#414d44" stroke-width="0.8"/><line x1="445.19" y1="58.6" x2="445.19" y2="62.7" stroke="#3a3d40" stroke-width="0.8"/><line x1="445.19" y1="67.6" x2="445.19" y2="70.0" stroke="#3a3d40" stroke-width="0.8"/><rect x="444.00" y="62.7" width="2.40" height="4.9" fill="#111"/><line x1="448.68" y1="61.0" x2="448.68" y2="65.0" stroke="#3a3d40" stroke-width="0.8"/><line x1="448.68" y1="68.4" x2="448.68" y2="72.0" stroke="#3a3d40" stroke-width="0.8"/><rect x="447.48" y="65.0" width="2.40" height="3.4" fill="#111"/><line x1="452.17" y1="65.0" x2="452.17" y2="67.2" stroke="#3a3d40" stroke-width="0.8"/><line x1="452.17" y1="75.6" x2="452.17" y2="81.8" stroke="#3a3d40" stroke-width="0.8"/><rect x="450.97" y="67.2" width="2.40" height="8.4" fill="#111"/><line x1="455.65" y1="70.0" x2="455.65" y2="75.6" stroke="#3a3d40" stroke-width="0.8"/><line x1="455.65" y1="77.0" x2="455.65" y2="81.8" stroke="#3a3d40" stroke-width="0.8"/><rect x="454.45" y="75.6" width="2.40" height="1.4" fill="#111"/><line x1="459.13" y1="69.3" x2="459.13" y2="74.9" stroke="#3a3d40" stroke-width="0.8"/><line x1="459.13" y1="75.1" x2="459.13" y2="77.0" stroke="#3a3d40" stroke-width="0.8"/><rect x="457.94" y="74.5" width="2.40" height="0.9" fill="#111"/><line x1="462.62" y1="68.6" x2="462.62" y2="74.9" stroke="#3a3d40" stroke-width="0.8"/><line x1="462.62" y1="79.7" x2="462.62" y2="86.0" stroke="#3a3d40" stroke-width="0.8"/><rect x="461.42" y="74.9" width="2.40" height="4.8" fill="#111"/><line x1="466.11" y1="75.6" x2="466.11" y2="78.5" stroke="#3a3d40" stroke-width="0.8"/><line x1="466.11" y1="79.5" x2="466.11" y2="82.0" stroke="#3a3d40" stroke-width="0.8"/><rect x="464.91" y="78.5" width="2.40" height="1.0" fill="#111"/><line x1="469.59" y1="69.3" x2="469.59" y2="71.4" stroke="#3a3d40" stroke-width="0.8"/><line x1="469.59" y1="78.4" x2="469.59" y2="79.0" stroke="#3a3d40" stroke-width="0.8"/><rect x="468.59" y="71.8" width="2.0" height="6.2" fill="rgba(87,121,64,0.35)" stroke="#414d44" stroke-width="0.8"/><line x1="473.07" y1="68.6" x2="473.07" y2="70.7" stroke="#3a3d40" stroke-width="0.8"/><line x1="473.07" y1="80.4" x2="473.07" y2="81.8" stroke="#3a3d40" stroke-width="0.8"/><rect x="471.88" y="70.7" width="2.40" height="9.7" fill="#111"/><line x1="476.56" y1="69.3" x2="476.56" y2="80.2" stroke="#3a3d40" stroke-width="0.8"/><line x1="476.56" y1="80.5" x2="476.56" y2="81.0" stroke="#3a3d40" stroke-width="0.8"/><rect x="475.36" y="79.9" width="2.40" height="0.9" fill="#111"/><line x1="480.05" y1="77.7" x2="480.05" y2="80.4" stroke="#3a3d40" stroke-width="0.8"/><line x1="480.05" y1="81.8" x2="480.05" y2="83.2" stroke="#3a3d40" stroke-width="0.8"/><rect x="478.85" y="80.4" width="2.40" height="1.4" fill="#111"/><line x1="483.53" y1="77.0" x2="483.53" y2="79.7" stroke="#3a3d40" stroke-width="0.8"/><line x1="483.53" y1="80.4" x2="483.53" y2="81.8" stroke="#3a3d40" stroke-width="0.8"/><rect x="482.33" y="79.6" width="2.40" height="0.9" fill="#111"/><line x1="487.01" y1="75.6" x2="487.01" y2="77.7" stroke="#3a3d40" stroke-width="0.8"/><line x1="487.01" y1="79.7" x2="487.01" y2="81.2" stroke="#3a3d40" stroke-width="0.8"/><rect x="486.01" y="78.1" width="2.0" height="1.2" fill="rgba(87,121,64,0.35)" stroke="#414d44" stroke-width="0.8"/><line x1="490.50" y1="77.0" x2="490.50" y2="79.0" stroke="#3a3d40" stroke-width="0.8"/><line x1="490.50" y1="80.4" x2="490.50" y2="81.8" stroke="#3a3d40" stroke-width="0.8"/><rect x="489.30" y="79.0" width="2.40" height="1.4" fill="#111"/><line x1="493.99" y1="74.2" x2="493.99" y2="76.3" stroke="#3a3d40" stroke-width="0.8"/><line x1="493.99" y1="80.4" x2="493.99" y2="81.8" stroke="#3a3d40" stroke-width="0.8"/><rect x="492.99" y="76.7" width="2.0" height="3.3" fill="rgba(87,121,64,0.35)" stroke="#414d44" stroke-width="0.8"/><line x1="497.47" y1="68.6" x2="497.47" y2="70.0" stroke="#3a3d40" stroke-width="0.8"/><line x1="497.47" y1="77.7" x2="497.47" y2="79.0" stroke="#3a3d40" stroke-width="0.8"/><rect x="496.47" y="70.4" width="2.0" height="6.9" fill="rgba(87,121,64,0.35)" stroke="#414d44" stroke-width="0.8"/><line x1="500.95" y1="54.0" x2="500.95" y2="57.4" stroke="#3a3d40" stroke-width="0.8"/><line x1="500.95" y1="70.0" x2="500.95" y2="71.4" stroke="#3a3d40" stroke-width="0.8"/><rect x="499.95" y="57.8" width="2.0" height="11.8" fill="rgba(87,121,64,0.35)" stroke="#414d44" stroke-width="0.8"/><line x1="504.44" y1="53.2" x2="504.44" y2="55.3" stroke="#3a3d40" stroke-width="0.8"/><line x1="504.44" y1="58.1" x2="504.44" y2="61.0" stroke="#3a3d40" stroke-width="0.8"/><rect x="503.24" y="55.3" width="2.40" height="2.8" fill="#111"/><line x1="507.93" y1="55.3" x2="507.93" y2="58.1" stroke="#3a3d40" stroke-width="0.8"/><line x1="507.93" y1="61.6" x2="507.93" y2="63.7" stroke="#3a3d40" stroke-width="0.8"/><rect x="506.73" y="58.1" width="2.40" height="3.5" fill="#111"/><line x1="511.41" y1="58.0" x2="511.41" y2="61.3" stroke="#3a3d40" stroke-width="0.8"/><line x1="511.41" y1="67.0" x2="511.41" y2="69.4" stroke="#3a3d40" stroke-width="0.8"/><rect x="510.21" y="61.3" width="2.40" height="5.7" fill="#111"/><line x1="514.89" y1="63.7" x2="514.89" y2="66.2" stroke="#3a3d40" stroke-width="0.8"/><line x1="514.89" y1="67.8" x2="514.89" y2="71.9" stroke="#3a3d40" stroke-width="0.8"/><rect x="513.69" y="66.2" width="2.40" height="1.6" fill="#111"/><line x1="518.38" y1="60.5" x2="518.38" y2="62.9" stroke="#3a3d40" stroke-width="0.8"/><line x1="518.38" y1="67.0" x2="518.38" y2="72.7" stroke="#3a3d40" stroke-width="0.8"/><rect x="517.38" y="63.3" width="2.0" height="3.3" fill="rgba(87,121,64,0.35)" stroke="#414d44" stroke-width="0.8"/><line x1="521.87" y1="59.7" x2="521.87" y2="61.3" stroke="#3a3d40" stroke-width="0.8"/><line x1="521.87" y1="61.6" x2="521.87" y2="63.7" stroke="#3a3d40" stroke-width="0.8"/><rect x="520.66" y="61.0" width="2.40" height="0.9" fill="#111"/><line x1="525.35" y1="60.5" x2="525.35" y2="62.0" stroke="#3a3d40" stroke-width="0.8"/><line x1="525.35" y1="70.2" x2="525.35" y2="71.9" stroke="#3a3d40" stroke-width="0.8"/><rect x="524.15" y="62.0" width="2.40" height="8.2" fill="#111"/><line x1="528.84" y1="67.8" x2="528.84" y2="69.4" stroke="#3a3d40" stroke-width="0.8"/><line x1="528.84" y1="70.2" x2="528.84" y2="71.9" stroke="#3a3d40" stroke-width="0.8"/><rect x="527.63" y="69.4" width="2.40" height="0.9" fill="#111"/><line x1="532.32" y1="68.6" x2="532.32" y2="70.2" stroke="#3a3d40" stroke-width="0.8"/><line x1="532.32" y1="71.0" x2="532.32" y2="72.7" stroke="#3a3d40" stroke-width="0.8"/><rect x="531.12" y="70.1" width="2.40" height="0.9" fill="#111"/><line x1="535.80" y1="69.4" x2="535.80" y2="71.0" stroke="#3a3d40" stroke-width="0.8"/><line x1="535.80" y1="85.7" x2="535.80" y2="94.7" stroke="#3a3d40" stroke-width="0.8"/><rect x="534.60" y="71.0" width="2.40" height="14.7" fill="#111"/><line x1="539.29" y1="84.2" x2="539.29" y2="86.5" stroke="#3a3d40" stroke-width="0.8"/><line x1="539.29" y1="88.5" x2="539.29" y2="90.7" stroke="#3a3d40" stroke-width="0.8"/><rect x="538.09" y="86.5" width="2.40" height="2.0" fill="#111"/><line x1="542.77" y1="85.0" x2="542.77" y2="88.3" stroke="#3a3d40" stroke-width="0.8"/><line x1="542.77" y1="89.0" x2="542.77" y2="92.3" stroke="#3a3d40" stroke-width="0.8"/><rect x="541.57" y="88.2" width="2.40" height="0.9" fill="#111"/><line x1="546.26" y1="87.5" x2="546.26" y2="89.0" stroke="#3a3d40" stroke-width="0.8"/><line x1="546.26" y1="108.6" x2="546.26" y2="111.0" stroke="#3a3d40" stroke-width="0.8"/><rect x="545.06" y="89.0" width="2.40" height="19.6" fill="#111"/><line x1="549.75" y1="95.6" x2="549.75" y2="97.2" stroke="#3a3d40" stroke-width="0.8"/><line x1="549.75" y1="107.8" x2="549.75" y2="108.6" stroke="#3a3d40" stroke-width="0.8"/><rect x="548.75" y="97.6" width="2.0" height="9.8" fill="rgba(87,121,64,0.35)" stroke="#414d44" stroke-width="0.8"/><line x1="553.23" y1="96.4" x2="553.23" y2="97.8" stroke="#3a3d40" stroke-width="0.8"/><line x1="553.23" y1="98.2" x2="553.23" y2="100.5" stroke="#3a3d40" stroke-width="0.8"/><rect x="552.03" y="97.5" width="2.40" height="0.9" fill="#111"/><line x1="556.72" y1="89.0" x2="556.72" y2="90.7" stroke="#3a3d40" stroke-width="0.8"/><line x1="556.72" y1="98.9" x2="556.72" y2="101.3" stroke="#3a3d40" stroke-width="0.8"/><rect x="555.72" y="91.1" width="2.0" height="7.4" fill="rgba(87,121,64,0.35)" stroke="#414d44" stroke-width="0.8"/><line x1="560.20" y1="83.4" x2="560.20" y2="85.0" stroke="#3a3d40" stroke-width="0.8"/><line x1="560.20" y1="90.7" x2="560.20" y2="93.2" stroke="#3a3d40" stroke-width="0.8"/><rect x="559.20" y="85.4" width="2.0" height="4.9" fill="rgba(87,121,64,0.35)" stroke="#414d44" stroke-width="0.8"/><line x1="563.69" y1="84.2" x2="563.69" y2="85.8" stroke="#3a3d40" stroke-width="0.8"/><line x1="563.69" y1="89.9" x2="563.69" y2="92.3" stroke="#3a3d40" stroke-width="0.8"/><rect x="562.49" y="85.8" width="2.40" height="4.1" fill="#111"/><line x1="567.17" y1="76.0" x2="567.17" y2="77.7" stroke="#3a3d40" stroke-width="0.8"/><line x1="567.17" y1="89.9" x2="567.17" y2="90.7" stroke="#3a3d40" stroke-width="0.8"/><rect x="566.17" y="78.1" width="2.0" height="11.4" fill="rgba(87,121,64,0.35)" stroke="#414d44" stroke-width="0.8"/><line x1="570.65" y1="66.3" x2="570.65" y2="68.6" stroke="#3a3d40" stroke-width="0.8"/><line x1="570.65" y1="76.9" x2="570.65" y2="77.7" stroke="#3a3d40" stroke-width="0.8"/><rect x="569.65" y="69.0" width="2.0" height="7.5" fill="rgba(87,121,64,0.35)" stroke="#414d44" stroke-width="0.8"/><line x1="574.14" y1="62.0" x2="574.14" y2="66.2" stroke="#3a3d40" stroke-width="0.8"/><line x1="574.14" y1="69.4" x2="574.14" y2="71.9" stroke="#3a3d40" stroke-width="0.8"/><rect x="573.14" y="66.6" width="2.0" height="2.4" fill="rgba(87,121,64,0.35)" stroke="#414d44" stroke-width="0.8"/><line x1="577.62" y1="66.2" x2="577.62" y2="67.6" stroke="#3a3d40" stroke-width="0.8"/><line x1="577.62" y1="68.0" x2="577.62" y2="69.4" stroke="#3a3d40" stroke-width="0.8"/><rect x="576.42" y="67.3" width="2.40" height="0.9" fill="#111"/><line x1="581.11" y1="61.3" x2="581.11" y2="64.5" stroke="#3a3d40" stroke-width="0.8"/><line x1="581.11" y1="68.6" x2="581.11" y2="70.2" stroke="#3a3d40" stroke-width="0.8"/><rect x="580.11" y="64.9" width="2.0" height="3.3" fill="rgba(87,121,64,0.35)" stroke="#414d44" stroke-width="0.8"/><line x1="584.60" y1="54.0" x2="584.60" y2="56.4" stroke="#3a3d40" stroke-width="0.8"/><line x1="584.60" y1="67.0" x2="584.60" y2="68.6" stroke="#3a3d40" stroke-width="0.8"/><rect x="583.60" y="56.8" width="2.0" height="9.8" fill="rgba(87,121,64,0.35)" stroke="#414d44" stroke-width="0.8"/><line x1="588.08" y1="53.1" x2="588.08" y2="57.2" stroke="#3a3d40" stroke-width="0.8"/><line x1="588.08" y1="71.0" x2="588.08" y2="72.7" stroke="#3a3d40" stroke-width="0.8"/><rect x="586.88" y="57.2" width="2.40" height="13.8" fill="#111"/><line x1="591.57" y1="64.5" x2="591.57" y2="66.2" stroke="#3a3d40" stroke-width="0.8"/><line x1="591.57" y1="71.0" x2="591.57" y2="71.9" stroke="#3a3d40" stroke-width="0.8"/><rect x="590.57" y="66.6" width="2.0" height="4.0" fill="rgba(87,121,64,0.35)" stroke="#414d44" stroke-width="0.8"/><line x1="595.05" y1="65.4" x2="595.05" y2="67.0" stroke="#3a3d40" stroke-width="0.8"/><line x1="595.05" y1="75.7" x2="595.05" y2="77.6" stroke="#3a3d40" stroke-width="0.8"/><rect x="593.85" y="67.0" width="2.40" height="8.7" fill="#111"/><line x1="598.53" y1="71.6" x2="598.53" y2="75.7" stroke="#3a3d40" stroke-width="0.8"/><line x1="598.53" y1="110.7" x2="598.53" y2="138.4" stroke="#3a3d40" stroke-width="0.8"/><rect x="597.33" y="75.7" width="2.40" height="35.0" fill="#111"/><line x1="602.02" y1="107.5" x2="602.02" y2="111.5" stroke="#3a3d40" stroke-width="0.8"/><line x1="602.02" y1="117.2" x2="602.02" y2="123.7" stroke="#3a3d40" stroke-width="0.8"/><rect x="600.82" y="111.5" width="2.40" height="5.7" fill="#111"/><line x1="605.50" y1="87.0" x2="605.50" y2="89.5" stroke="#3a3d40" stroke-width="0.8"/><line x1="605.50" y1="117.2" x2="605.50" y2="118.9" stroke="#3a3d40" stroke-width="0.8"/><rect x="604.50" y="89.9" width="2.0" height="26.9" fill="rgba(87,121,64,0.35)" stroke="#414d44" stroke-width="0.8"/><line x1="608.99" y1="81.5" x2="608.99" y2="83.0" stroke="#3a3d40" stroke-width="0.8"/><line x1="608.99" y1="90.4" x2="608.99" y2="92.0" stroke="#3a3d40" stroke-width="0.8"/><rect x="607.99" y="83.4" width="2.0" height="6.6" fill="rgba(87,121,64,0.35)" stroke="#414d44" stroke-width="0.8"/><line x1="612.48" y1="81.9" x2="612.48" y2="83.2" stroke="#3a3d40" stroke-width="0.8"/><line x1="612.48" y1="91.0" x2="612.48" y2="95.0" stroke="#3a3d40" stroke-width="0.8"/><rect x="611.27" y="83.2" width="2.40" height="7.8" fill="#111"/><line x1="615.96" y1="85.3" x2="615.96" y2="91.0" stroke="#3a3d40" stroke-width="0.8"/><line x1="615.96" y1="101.4" x2="615.96" y2="104.2" stroke="#3a3d40" stroke-width="0.8"/><rect x="614.76" y="91.0" width="2.40" height="10.4" fill="#111"/><line x1="619.45" y1="95.8" x2="619.45" y2="100.0" stroke="#3a3d40" stroke-width="0.8"/><line x1="619.45" y1="106.3" x2="619.45" y2="111.1" stroke="#3a3d40" stroke-width="0.8"/><rect x="618.25" y="100.0" width="2.40" height="6.3" fill="#111"/><line x1="622.93" y1="103.5" x2="622.93" y2="107.0" stroke="#3a3d40" stroke-width="0.8"/><line x1="622.93" y1="111.1" x2="622.93" y2="122.3" stroke="#3a3d40" stroke-width="0.8"/><rect x="621.73" y="107.0" width="2.40" height="4.1" fill="#111"/><line x1="626.41" y1="104.2" x2="626.41" y2="107.0" stroke="#3a3d40" stroke-width="0.8"/><line x1="626.41" y1="110.4" x2="626.41" y2="111.8" stroke="#3a3d40" stroke-width="0.8"/><rect x="625.41" y="107.4" width="2.0" height="2.6" fill="rgba(87,121,64,0.35)" stroke="#414d44" stroke-width="0.8"/><line x1="629.90" y1="102.2" x2="629.90" y2="106.7" stroke="#3a3d40" stroke-width="0.8"/><line x1="629.90" y1="108.2" x2="629.90" y2="111.0" stroke="#3a3d40" stroke-width="0.8"/><rect x="628.70" y="106.7" width="2.40" height="1.5" fill="#111"/><rect x="0" y="184.1" width="762.6" height="0.9" fill="rgba(215,228,232,0.8)"/><rect x="0" y="201.6" width="762.6" height="0.9" fill="rgba(215,228,232,0.8)"/><rect x="0" y="185" width="762.6" height="16.599999999999994" fill="rgba(26,149,115,0.5)"/><rect x="0" y="185" width="762.6" height="1.3" fill="rgba(122,160,155,0.85)"/><rect x="0" y="200.29999999999998" width="762.6" height="1.3" fill="rgba(122,160,155,0.85)"/><rect x="761.6" y="185" width="1" height="16.599999999999994" fill="rgba(122,160,155,0.85)"/><path d="M93,289.8 L93,253.1 M87.8,257.8 L93,252.6 L98.2,257.8" fill="none" stroke="#2e3033" stroke-width="1.2" stroke-linecap="round" stroke-linejoin="round"/><path d="M215.2,320.6 L215.2,272.6 M209.5,277.90000000000003 L215.2,272.1 L220.89999999999998,277.90000000000003" fill="none" stroke="#2e3033" stroke-width="1.2" stroke-linecap="round" stroke-linejoin="round"/><path d="M598.9,166.2 L598.9,137.9 M593.3,144.0 L598.9,137.4 L604.5,144.0" fill="none" stroke="#2e3033" stroke-width="1.2" stroke-linecap="round" stroke-linejoin="round"/><path d="M623.4,149.5 L623.4,126.7 M617.8,132.4 L623.4,126.2 L629.0,132.4" fill="none" stroke="#2e3033" stroke-width="1.2" stroke-linecap="round" stroke-linejoin="round"/><text x="793" y="11.8" text-anchor="end" font-size="6.6" fill="#2b2d31" stroke="#2b2d31" stroke-width="0.22" font-family="'Liberation Sans', Arial, sans-serif">5,600.00</text><text x="793" y="31.6" text-anchor="end" font-size="6.6" fill="#2b2d31" stroke="#2b2d31" stroke-width="0.22" font-family="'Liberation Sans', Arial, sans-serif">5,200.00</text><text x="793" y="52.3" text-anchor="end" font-size="6.6" fill="#2b2d31" stroke="#2b2d31" stroke-width="0.22" font-family="'Liberation Sans', Arial, sans-serif">4,800.00</text><text x="793" y="76.3" text-anchor="end" font-size="6.6" fill="#2b2d31" stroke="#2b2d31" stroke-width="0.22" font-family="'Liberation Sans', Arial, sans-serif">4,400.00</text><text x="793" y="101.8" text-anchor="end" font-size="6.6" fill="#2b2d31" stroke="#2b2d31" stroke-width="0.22" font-family="'Liberation Sans', Arial, sans-serif">4,000.00</text><text x="793" y="136.5" text-anchor="end" font-size="6.6" fill="#2b2d31" stroke="#2b2d31" stroke-width="0.22" font-family="'Liberation Sans', Arial, sans-serif">3,500.00</text><text x="793" y="152.3" text-anchor="end" font-size="6.6" fill="#2b2d31" stroke="#2b2d31" stroke-width="0.22" font-family="'Liberation Sans', Arial, sans-serif">3,300.00</text><text x="793" y="169.7" text-anchor="end" font-size="6.6" fill="#2b2d31" stroke="#2b2d31" stroke-width="0.22" font-family="'Liberation Sans', Arial, sans-serif">3,100.00</text><text x="793" y="187.2" text-anchor="end" font-size="6.6" fill="#2b2d31" stroke="#2b2d31" stroke-width="0.22" font-family="'Liberation Sans', Arial, sans-serif">2,900.00</text><text x="793" y="206.0" text-anchor="end" font-size="6.6" fill="#2b2d31" stroke="#2b2d31" stroke-width="0.22" font-family="'Liberation Sans', Arial, sans-serif">2,700.00</text><text x="793" y="226.9" text-anchor="end" font-size="6.6" fill="#2b2d31" stroke="#2b2d31" stroke-width="0.22" font-family="'Liberation Sans', Arial, sans-serif">2,500.00</text><text x="793" y="243.7" text-anchor="end" font-size="6.6" fill="#2b2d31" stroke="#2b2d31" stroke-width="0.22" font-family="'Liberation Sans', Arial, sans-serif">2,350.00</text><text x="793" y="262.2" text-anchor="end" font-size="6.6" fill="#2b2d31" stroke="#2b2d31" stroke-width="0.22" font-family="'Liberation Sans', Arial, sans-serif">2,190.00</text><text x="793" y="277.8" text-anchor="end" font-size="6.6" fill="#2b2d31" stroke="#2b2d31" stroke-width="0.22" font-family="'Liberation Sans', Arial, sans-serif">2,070.00</text><text x="793" y="293.8" text-anchor="end" font-size="6.6" fill="#2b2d31" stroke="#2b2d31" stroke-width="0.22" font-family="'Liberation Sans', Arial, sans-serif">1,950.00</text><text x="793" y="310.5" text-anchor="end" font-size="6.6" fill="#2b2d31" stroke="#2b2d31" stroke-width="0.22" font-family="'Liberation Sans', Arial, sans-serif">1,830.00</text><text x="793" y="325.3" text-anchor="end" font-size="6.6" fill="#2b2d31" stroke="#2b2d31" stroke-width="0.22" font-family="'Liberation Sans', Arial, sans-serif">1,730.00</text><text x="793" y="341.4" text-anchor="end" font-size="6.6" fill="#2b2d31" stroke="#2b2d31" stroke-width="0.22" font-family="'Liberation Sans', Arial, sans-serif">1,630.00</text><text x="793" y="376.5" text-anchor="end" font-size="6.6" fill="#2b2d31" stroke="#2b2d31" stroke-width="0.22" font-family="'Liberation Sans', Arial, sans-serif">1,430.00</text><text x="793" y="391.8" text-anchor="end" font-size="6.6" fill="#2b2d31" stroke="#2b2d31" stroke-width="0.22" font-family="'Liberation Sans', Arial, sans-serif">1,350.00</text><text x="793" y="406.5" text-anchor="end" font-size="6.6" fill="#2b2d31" stroke="#2b2d31" stroke-width="0.22" font-family="'Liberation Sans', Arial, sans-serif">1,275.00</text><rect x="745.5" y="38" width="16" height="8" rx="1" fill="#e6e8ee"/><rect x="765" y="38" width="30" height="8" rx="1" fill="#e6e8ee"/><text x="753.5" y="44.1" text-anchor="middle" font-size="6.3" fill="#2b2d31" stroke="#2b2d31" stroke-width="0.22" font-family="'Liberation Sans', Arial, sans-serif">High</text><text x="793" y="44.1" text-anchor="end" font-size="6.6" fill="#2b2d31" stroke="#2b2d31" stroke-width="0.12" font-family="'Liberation Sans', Arial, sans-serif">4,955.90</text><rect x="747.5" y="351.2" width="14" height="7.5" rx="1" fill="#e6e8ee"/><rect x="765.5" y="351.2" width="29.5" height="7.5" rx="1" fill="#e6e8ee"/><text x="754.5" y="357" text-anchor="middle" font-size="6.3" fill="#2b2d31" stroke="#2b2d31" stroke-width="0.22" font-family="'Liberation Sans', Arial, sans-serif">Low</text><text x="793" y="357" text-anchor="end" font-size="6.6" fill="#2b2d31" stroke="#2b2d31" stroke-width="0.12" font-family="'Liberation Sans', Arial, sans-serif">1,538.75</text><rect x="763" y="104.9" width="32.8" height="7.4" rx="0.8" fill="#0c0c0c"/><text x="779.4" y="110.9" text-anchor="middle" font-size="6.4" fill="#e8e8e8" font-family="'Liberation Sans', Arial, sans-serif">15:21:14</text><rect x="763" y="112.3" width="32.8" height="8.6" fill="#6cc072"/><text x="779.4" y="118.9" text-anchor="middle" font-size="6.4" fill="#d8f3d8" font-family="'Liberation Sans', Arial, sans-serif">3,773.83</text><rect x="763" y="120.9" width="32.8" height="8.4" rx="0.8" fill="#ec6a66"/><text x="779.4" y="127.4" text-anchor="middle" font-size="6.4" fill="#fbe1e0" font-family="'Liberation Sans', Arial, sans-serif">3,720.18</text><text x="627" y="85" font-size="6.5" fill="#2b2d31" stroke="#2b2d31" stroke-width="0.22" font-family="'Liberation Sans', Arial, sans-serif">0.5 (4,265.96)</text><text x="627" y="92" font-size="6.5" fill="#2b2d31" stroke="#2b2d31" stroke-width="0.22" font-family="'Liberation Sans', Arial, sans-serif">0.618 (4,157.32)</text><text x="34" y="426.3" text-anchor="middle" font-size="6.3" font-weight="bold" fill="#1f2124" font-family="'Liberation Sans', Arial, sans-serif">May</text><text x="141.7" y="426.3" text-anchor="middle" font-size="6.3" font-weight="bold" fill="#1f2124" font-family="'Liberation Sans', Arial, sans-serif">Jun</text><text x="246.5" y="426.3" text-anchor="middle" font-size="6.3" font-weight="bold" fill="#1f2124" font-family="'Liberation Sans', Arial, sans-serif">Jul</text><text x="354.7" y="426.3" text-anchor="middle" font-size="6.3" font-weight="bold" fill="#1f2124" font-family="'Liberation Sans', Arial, sans-serif">Aug</text><text x="462.5" y="426.3" text-anchor="middle" font-size="6.3" font-weight="bold" fill="#1f2124" font-family="'Liberation Sans', Arial, sans-serif">Sep</text><text x="567.2" y="426.3" text-anchor="middle" font-size="6.3" font-weight="bold" fill="#1f2124" font-family="'Liberation Sans', Arial, sans-serif">Oct</text><text x="675.3" y="426.3" text-anchor="middle" font-size="6.3" font-weight="bold" fill="#1f2124" font-family="'Liberation Sans', Arial, sans-serif">Nov</text><polygon points="783.80,424.50 782.15,427.36 778.85,427.36 777.20,424.50 778.85,421.64 782.15,421.64" fill="none" stroke="#3a3c40" stroke-width="0.8" stroke-linejoin="round"/><circle cx="780.5" cy="424.5" r="1.1" fill="none" stroke="#3a3c40" stroke-width="0.8"/><g fill="#111"><path d="M6.8,403.6 h5.2 v7.2 h-2.6 v-4.6 h-2.6 z"/><circle cx="14.2" cy="405" r="1.3"/><path d="M17.6,403.6 h3.8 l-3.2,7.2 h-3.8 z"/></g></svg>
<div class="hdr"></div>
<div class="edge" style="left:0;width:1.2px;background:rgba(240,242,247,0.75)"></div>
<div class="edge" style="left:1.2px;width:0.8px;background:rgba(150,155,168,0.18)"></div>
<div class="edge" style="left:2px;width:4.2px;background:rgba(255,255,255,0.1)"></div>
<div class="edge" style="left:6.2px;width:0.8px;background:rgba(150,155,168,0.12)"></div>
<div style="position:absolute;left:0;top:0;width:800px;height:1.2px;background:#e3e5ec"></div>
<div style="position:absolute;left:400px;top:1.8px;width:396px;height:0.9px;background:#cdd0d8"></div>
<div class="edge" style="left:796.3px;width:1.8px;background:#dcdfe5"></div>
<div class="edge" style="left:798.1px;width:1.9px;background:#cdd0d7"></div>
<div style="position:absolute;left:3px;top:15px;width:13px;height:13px;background:rgba(236,238,242,0.18);border-radius:2px"></div>
<svg width="20" height="30" style="position:absolute;left:0;top:0">
<circle cx="9.55" cy="8.55" r="4.4" fill="#2f3577"/>
<circle cx="9.55" cy="8.55" r="3.1" fill="#7d86d6"/>
<path d="M9.55,5.6 L11.3,8.55 L9.55,11.5 L7.8,8.55 Z" fill="#c4c9f6"/>
<path d="M10.3,20.1 L11.9,21.6 L13.5,20.1" fill="none" stroke="#2a2c30" stroke-width="1.1"/>
</svg>
<div class="t" style="left:16.4px;top:4.6px;font-size:7.85px;line-height:9px;-webkit-text-stroke:0.22px #2a2c30;transform:scaleY(1.2);transform-origin:0 7.2px">Ethereum / U.S. Dollar · 1D · Coinbase</div>
<div style="position:absolute;left:154.4px;top:5px;width:7.5px;height:7.5px;border-radius:50%;background:rgba(170,215,195,0.5)"></div>
<div style="position:absolute;left:156.7px;top:7.3px;width:2.9px;height:2.9px;border-radius:50%;background:#3f8f72"></div>
<div class="t ohlc" style="left:166.9px">O3,890.40</div>
<div class="t ohlc" style="left:202.5px">H3,956.74</div>
<div class="t ohlc" style="left:238.1px">L3,829.23</div>
<div class="t ohlc" style="left:273.1px">C3,869.11</div>
<div class="t ohlc" style="left:308.1px">−21.29 (−0.55%)</div>
<div class="t ohlc" style="left:363.5px">Vol19.74K</div>
</body></html>
